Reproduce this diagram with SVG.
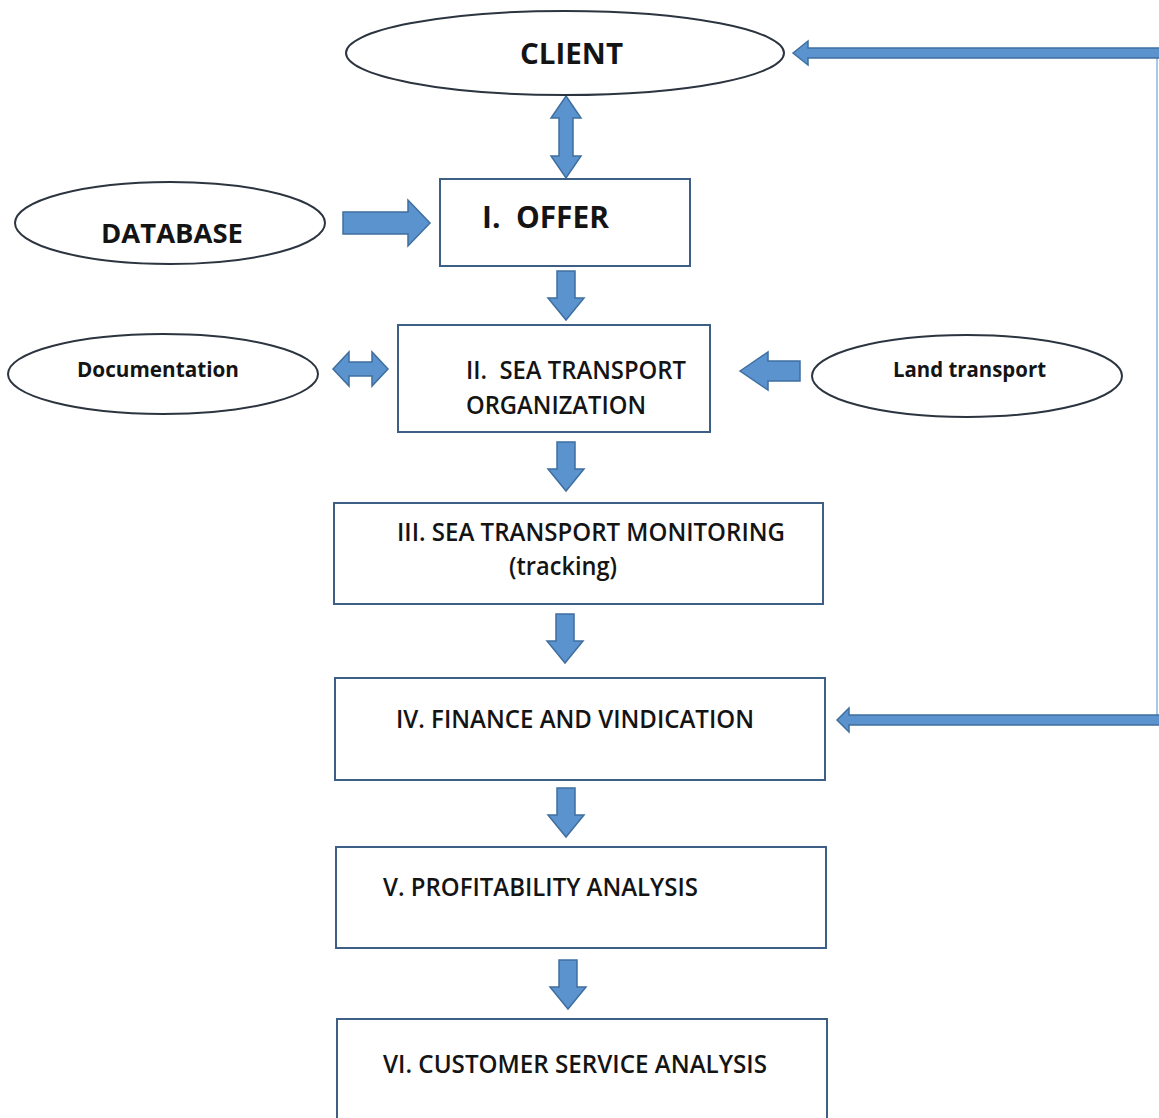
<svg xmlns="http://www.w3.org/2000/svg" width="1159" height="1118" viewBox="0 0 1159 1118">
<style>
.bg{fill:#ffffff}
.box{fill:#ffffff;stroke:#3d5f86;stroke-width:2}
.ell{fill:#ffffff;stroke:#2c3440;stroke-width:2}
.arr{fill:#5b93cf;stroke:#3f6f9f;stroke-width:1.5;stroke-linejoin:miter}
.t{font-family:"Open Sans","Liberation Sans",sans-serif;font-weight:600;fill:#141414;white-space:pre}
.tb{font-family:"Open Sans","Liberation Sans",sans-serif;font-weight:700;fill:#141414;white-space:pre}
</style>
<defs>
<polygon id="down" class="arr" points="-9,0 9,0 9,27 18,27 0,49 -18,27 -9,27"/>
</defs>
<rect class="bg" x="0" y="0" width="1159" height="1118"/>

<g id="connectors">
<line x1="1157" y1="50" x2="1157" y2="722" stroke="#a9c8e8" stroke-width="2"/>
<polygon class="arr" points="793,53 808,41 808,48 1160,48 1160,58 808,58 808,65"/>
<polygon class="arr" points="837,720 849,708 849,715 1160,715 1160,725 849,725 849,732"/>
<polygon class="arr" points="566,96 581,118 573,118 573,156 581,156 566,178 551,156 559,156 559,118 551,118"/>
<polygon class="arr" points="343,212 408,212 408,200 430,223 408,246 408,234 343,234"/>
<polygon class="arr" points="333,369 349,352 349,362 372,362 372,352 388,369 372,386 372,376 349,376 349,386"/>
<polygon class="arr" points="740,371 768,352 768,361 800,361 800,381 768,381 768,390"/>
<use href="#down" x="566" y="271"/>
<use href="#down" x="566" y="442"/>
<use href="#down" x="565" y="614"/>
<use href="#down" x="566" y="788"/>
<use href="#down" x="568" y="960"/>
</g>

<g id="client">
<ellipse class="ell" cx="565" cy="53" rx="219" ry="42"/>
<text class="tb" x="520" y="64" font-size="28" textLength="103" lengthAdjust="spacingAndGlyphs">CLIENT</text>
</g>

<g id="database">
<ellipse class="ell" cx="170" cy="223" rx="155" ry="41"/>
<text class="tb" x="101" y="243" font-size="26" textLength="142" lengthAdjust="spacingAndGlyphs">DATABASE</text>
</g>

<g id="offer">
<rect class="box" x="440" y="179" width="250" height="87"/>
<text class="tb" x="482" y="228" font-size="30" textLength="127" lengthAdjust="spacingAndGlyphs">I.  OFFER</text>
</g>

<g id="documentation">
<ellipse class="ell" cx="163" cy="374" rx="155" ry="40"/>
<text class="tb" x="77" y="377" font-size="21" textLength="162" lengthAdjust="spacingAndGlyphs">Documentation</text>
</g>

<g id="land-transport">
<ellipse class="ell" cx="967" cy="376" rx="155" ry="41"/>
<text class="tb" x="893" y="377" font-size="21" textLength="153" lengthAdjust="spacingAndGlyphs">Land transport</text>
</g>

<g id="sea-transport-organization">
<rect class="box" x="398" y="325" width="312" height="107"/>
<text class="t" x="466" y="379" font-size="25" textLength="220" lengthAdjust="spacingAndGlyphs">II.  SEA TRANSPORT</text>
<text class="t" x="466" y="414" font-size="25" textLength="180" lengthAdjust="spacingAndGlyphs">ORGANIZATION</text>
</g>

<g id="sea-transport-monitoring">
<rect class="box" x="334" y="503" width="489" height="101"/>
<text class="t" x="397" y="541" font-size="25" textLength="388" lengthAdjust="spacingAndGlyphs">III. SEA TRANSPORT MONITORING</text>
<text class="t" x="509" y="575" font-size="25" textLength="108" lengthAdjust="spacingAndGlyphs">(tracking)</text>
</g>

<g id="finance">
<rect class="box" x="335" y="678" width="490" height="102"/>
<text class="t" x="396" y="728" font-size="25" textLength="358" lengthAdjust="spacingAndGlyphs">IV. FINANCE AND VINDICATION</text>
</g>

<g id="profitability">
<rect class="box" x="336" y="847" width="490" height="101"/>
<text class="t" x="383" y="896" font-size="25" textLength="315" lengthAdjust="spacingAndGlyphs">V. PROFITABILITY ANALYSIS</text>
</g>

<g id="customer-service">
<rect class="box" x="337" y="1019" width="490" height="110"/>
<text class="t" x="383" y="1073" font-size="25" textLength="384" lengthAdjust="spacingAndGlyphs">VI. CUSTOMER SERVICE ANALYSIS</text>
</g>
</svg>
